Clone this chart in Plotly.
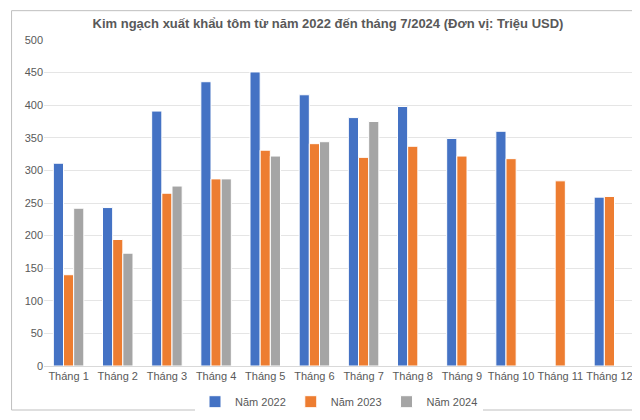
import plotly.graph_objects as go

months = ["Tháng 1", "Tháng 2", "Tháng 3", "Tháng 4", "Tháng 5", "Tháng 6",
          "Tháng 7", "Tháng 8", "Tháng 9", "Tháng 10", "Tháng 11", "Tháng 12"]
y2022 = [311, 243, 391, 436, 451, 416, 381, 398, 349, 360, None, 259]
y2023 = [140, 194, 265, 287, 331, 341, 320, 337, 322, 318, 284, 260]
y2024 = [242, 173, 276, 287, 322, 344, 375, None, None, None, None, None]

fig = go.Figure()
for name, vals, col in [("Năm 2022", y2022, "#4472C4"),
                        ("Năm 2023", y2023, "#ED7D31"),
                        ("Năm 2024", y2024, "#A5A5A5")]:
    fig.add_trace(go.Bar(x=months, y=vals, name=name, marker_color=col,
                         marker_line=dict(color="white", width=1)))

fig.update_layout(
    title=dict(text="<b>Kim ngạch xuất khẩu tôm từ năm 2022 đến tháng 7/2024 (Đơn vị: Triệu USD)</b>",
               x=0.5, y=0.975, font=dict(size=13, color="#595959")),
    font=dict(family="Liberation Sans, Arial", size=11, color="#595959"),
    width=640, height=420,
    paper_bgcolor="white", plot_bgcolor="white",
    margin=dict(l=36, r=14, t=32, b=46),
    barmode="group", bargap=0.38, bargroupgap=0.0,
    legend=dict(orientation="h", x=0.5, xanchor="center", y=-0.065, yanchor="top",
                font=dict(size=11)),
    shapes=[dict(type="rect", xref="paper", yref="paper", x0=-0.055, x1=1.02,
                 y0=-0.135, y1=1.09, line=dict(color="#BFBFBF", width=1))],
)
fig.update_yaxes(range=[0, 500], dtick=50, gridcolor="#E5E5E5", zeroline=False,
                 showline=False, ticks="")
fig.update_xaxes(showline=True, linecolor="#D9D9D9", ticks="")

fig.write_html("out.html")
